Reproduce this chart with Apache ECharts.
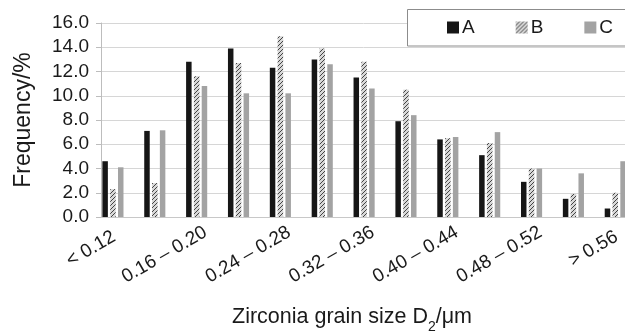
<!DOCTYPE html>
<html>
<head>
<meta charset="utf-8">
<script src="https://cdn.jsdelivr.net/npm/echarts@6/dist/echarts.min.js"></script>
<style>
html,body{margin:0;padding:0;background:#fff;}
#c{width:625px;height:333px;}
</style>
</head>
<body>
<div id="c"></div>
<script>
const categories = ['< 0.12','0.12 – 0.16','0.16 – 0.20','0.20 – 0.24','0.24 – 0.28','0.28 – 0.32','0.32 – 0.36','0.36 – 0.40','0.40 – 0.44','0.44 – 0.48','0.48 – 0.52','0.52 – 0.56','> 0.56'];
const seriesNames = ['A','B','C'];
const valuesA = [4.6, 7.1, 12.8, 13.9, 12.3, 13.0, 11.5, 7.9, 6.4, 5.1, 2.9, 1.5, 0.7];
const valuesB = [2.3, 2.8, 11.6, 12.7, 14.9, 13.9, 12.8, 10.5, 6.5, 6.1, 4.0, 1.9, 2.0];
const valuesC = [4.1, 7.15, 10.8, 10.2, 10.2, 12.6, 10.6, 8.4, 6.6, 7.0, 4.0, 3.6, 4.6];
const yMin = 0, yMax = 16, yStep = 2;

const FONT = '"Liberation Sans", Arial, Helvetica, sans-serif';

const pc = document.createElement('canvas');
pc.width = 4; pc.height = 4;
const g = pc.getContext('2d');
g.fillStyle = '#d8d8d8';
g.fillRect(0,0,4,4);
g.strokeStyle = '#444';
g.lineWidth = 1.0;
g.beginPath();
g.moveTo(0,4); g.lineTo(4,0);
g.moveTo(-1,1); g.lineTo(1,-1);
g.moveTo(3,5); g.lineTo(5,3);
g.stroke();
const hatch = {image: pc, repeat: 'repeat'};

const chart = echarts.init(document.getElementById('c'), null, {renderer: 'canvas'});
const barW = 5.5;
const lastIdx = categories.length - 1;
chart.setOption({
  animation: false,
  backgroundColor: '#fff',
  textStyle: {fontFamily: FONT, color: '#1a1a1a'},
  title: {
    left: 227, top: 301,
    text: '{a|Zirconia grain size D}{s|2}{a|/μm}',
    textStyle: {
      rich: {
        a: {fontFamily: FONT, fontSize: 21.5, color: '#1a1a1a', fontWeight: 'normal'},
        s: {fontFamily: FONT, fontSize: 14, color: '#1a1a1a', verticalAlign: 'bottom', padding: [0,0,-6,0], fontWeight: 'normal'}
      }
    }
  },
  graphic: [
    {type: 'rect', z: 3, silent: true, shape: {x: 407.5, y: 9.5, width: 260, height: 36.5},
     style: {fill: '#fff', stroke: null}},
    {type: 'line', z: 3, silent: true, shape: {x1: 407.5, y1: 9.5, x2: 700, y2: 9.5}, style: {stroke: '#8c8c8c', lineWidth: 1}},
    {type: 'line', z: 3, silent: true, shape: {x1: 407.5, y1: 46, x2: 700, y2: 46}, style: {stroke: '#8c8c8c', lineWidth: 1}},
    {type: 'line', z: 3, silent: true, shape: {x1: 407.5, y1: 9.5, x2: 407.5, y2: 46}, style: {stroke: '#8c8c8c', lineWidth: 1}}
  ],
  legend: {
    data: seriesNames,
    left: 407, top: 9, width: 320, z: 5,
    orient: 'horizontal',
    padding: [9, 40, 9, 40],
    borderWidth: 0, backgroundColor: 'transparent',
    itemWidth: 12, itemHeight: 12, itemGap: 41,
    icon: 'rect',
    textStyle: {fontFamily: FONT, fontSize: 19, color: '#1a1a1a', lineHeight: 19, padding: [0,0,0,-2]}
  },
  grid: [
    {left: 101, top: 23, width: 544.2, height: 194, containLabel: false, outerBoundsMode: 'none'},
    {left: 92, top: 23, width: 544.2, height: 194, containLabel: false, outerBoundsMode: 'none'}
  ],
  xAxis: [
    {gridIndex: 0, type: 'category', data: categories, axisTick: {show: false},
     axisLine: {show: true, lineStyle: {color: '#c8c8c8', width: 1}}, splitLine: {show: false},
     axisLabel: {interval: 1, rotate: 30, margin: 14, fontSize: 19, fontFamily: FONT, color: '#1a1a1a',
       formatter: (v, i) => (i === 0 || i === lastIdx) ? '{e|' + v + '}' : v,
       rich: {e: {fontSize: 19, fontFamily: FONT, color: '#1a1a1a', padding: [0, 9, 0, 0]}}}},
    {gridIndex: 1, type: 'category', data: categories, show: false}
  ],
  yAxis: [
    {gridIndex: 0, type: 'value', min: yMin, max: yMax, interval: yStep,
     name: 'Frequency/%', nameLocation: 'middle', nameGap: 66,
     nameTextStyle: {fontSize: 23, fontFamily: FONT, color: '#1a1a1a'},
     axisLine: {show: true, lineStyle: {color: '#bdbdbd', width: 1}},
     axisTick: {show: true, length: 5, lineStyle: {color: '#bdbdbd'}},
     axisLabel: {fontSize: 19, fontFamily: FONT, color: '#1a1a1a', margin: 12, formatter: v => v.toFixed(1)},
     splitLine: {show: true, lineStyle: {color: '#d6d6d6', width: 1}}},
    {gridIndex: 1, type: 'value', min: yMin, max: yMax, interval: yStep, show: false, splitLine: {show: false}}
  ],
  series: [
    {name: 'A', type: 'bar', xAxisIndex: 1, yAxisIndex: 1, data: valuesA, barWidth: barW, barGap: '42%', itemStyle: {color: '#161616'}},
    {name: 'B', type: 'bar', xAxisIndex: 1, yAxisIndex: 1, data: valuesB, barWidth: barW, barGap: '42%', itemStyle: {color: hatch}},
    {name: 'C', type: 'bar', xAxisIndex: 1, yAxisIndex: 1, data: valuesC, barWidth: barW, barGap: '42%', itemStyle: {color: '#a3a3a3'}}
  ]
});
</script>
</body>
</html>
